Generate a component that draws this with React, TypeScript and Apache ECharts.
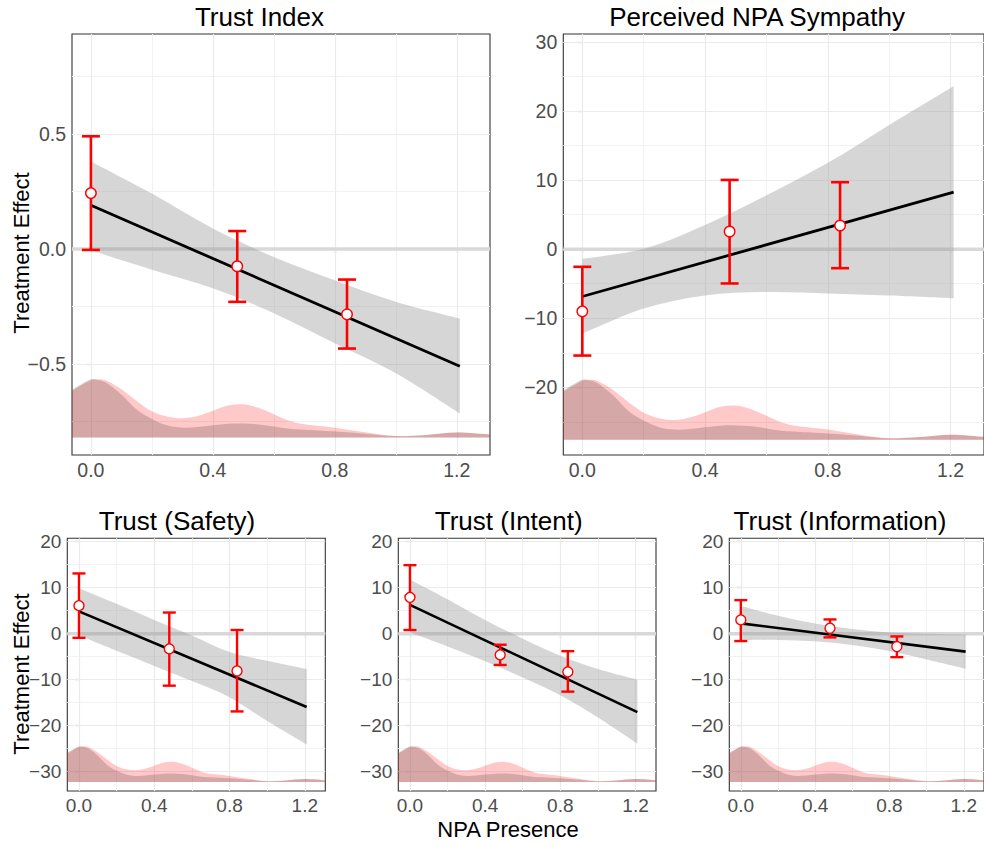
import React, { useEffect, useRef } from 'react';
import * as echarts from 'echarts';

// ---------------- Data ----------------
const panelTitles = ['Trust Index', 'Perceived NPA Sympathy', 'Trust (Safety)', 'Trust (Intent)', 'Trust (Information)'];
const yAxisTitle = 'Treatment Effect';
const xAxisTitle = 'NPA Presence';

const xTickValues = [0, 0.4, 0.8, 1.2];
const xMinorValues = [0.2, 0.6, 1.0];

// binned estimates (red points with 95% CI)
const pointX = [0, 0.48, 0.84];
const trustIndexEst = [0.243, -0.075, -0.284];
const trustIndexLow = [-0.004, -0.23, -0.433];
const trustIndexHigh = [0.49, 0.078, -0.133];
const sympathyEst = [-9.0, 2.56, 3.43];
const sympathyLow = [-15.4, -4.96, -2.75];
const sympathyHigh = [-2.55, 10.03, 9.7];
const safetyEst = [6.1, -3.3, -8.1];
const safetyLow = [-0.9, -11.3, -16.9];
const safetyHigh = [13.1, 4.6, 0.8];
const intentEst = [7.9, -4.6, -8.3];
const intentLow = [0.8, -6.8, -12.6];
const intentHigh = [14.9, -2.4, -3.8];
const infoEst = [3.0, 1.2, -2.8];
const infoLow = [-1.6, -0.8, -5.1];
const infoHigh = [7.3, 3.1, -0.6];

// linear fit (black line)
const fitX = [0, 1.21];
const trustIndexFit = [0.19, -0.51];
const sympathyFit = [-6.85, 8.25];
const safetyFit = [4.85, -15.95];
const intentFit = [6.25, -17.05];
const infoFit = [2.25, -3.9];

// confidence band (grey)
const bandX = [0, 0.2, 0.4, 0.6, 0.8, 1.0, 1.21];
const trustIndexBandHigh = [0.381, 0.241, 0.089, -0.035, -0.136, -0.23, -0.303];
const trustIndexBandLow = [-0.006, -0.09, -0.171, -0.279, -0.41, -0.54, -0.715];
const sympathyBandHigh = [-1.39, 0.05, 3.5, 7.8, 12.5, 18.0, 23.6];
const sympathyBandLow = [-12.24, -8.6, -6.7, -6.2, -6.4, -6.7, -7.1];
const safetyBandHigh = [9.9, 6.5, 3.0, -0.4, -4.0, -5.9, -7.7];
const safetyBandLow = [-0.4, -3.7, -7.0, -10.3, -13.8, -19.0, -24.1];
const intentBandHigh = [11.8, 7.5, 3.0, -1.1, -4.8, -7.7, -10.0];
const intentBandLow = [0.3, -2.8, -6.0, -9.5, -13.4, -18.2, -23.9];
const infoBandHigh = [6.0, 3.9, 2.2, 1.0, 0.25, 0.0, -0.15];
const infoBandLow = [-1.4, -1.35, -1.65, -2.45, -3.75, -5.6, -7.6];

// density of moderator (relative heights, 1 = peak)
const densityX = [-0.062, -0.03, 0, 0.02, 0.05, 0.1, 0.15, 0.2, 0.25, 0.3, 0.35, 0.4, 0.45, 0.5, 0.55, 0.6, 0.65, 0.7, 0.8, 0.9, 1.0, 1.1, 1.2, 1.309];
const densityTreated = [0.8, 0.9, 0.98, 1.0, 0.98, 0.83, 0.63, 0.45, 0.36, 0.33, 0.37, 0.46, 0.55, 0.57, 0.51, 0.4, 0.29, 0.23, 0.17, 0.09, 0.025, 0.045, 0.085, 0.05];
const densityControl = [0.82, 0.92, 1.0, 0.99, 0.94, 0.74, 0.48, 0.32, 0.21, 0.17, 0.18, 0.21, 0.235, 0.24, 0.225, 0.19, 0.15, 0.135, 0.105, 0.067, 0.025, 0.045, 0.085, 0.05];
const densityBase = [-0.82, -27.6, -32.25, -32.25, -32.25];
const densityPeak = [-0.567, -18.9, -24.5, -24.5, -24.5];

const yMajorTicks = [[-0.5, 0, 0.5], [-20, -10, 0, 10, 20, 30], [-30, -20, -10, 0, 10, 20], [-30, -20, -10, 0, 10, 20], [-30, -20, -10, 0, 10, 20]];
const yMinorTicks = [[-0.75, -0.25, 0.25, 0.75], [-25, -15, -5, 5, 15, 25], [-25, -15, -5, 5, 15], [-25, -15, -5, 5, 15], [-25, -15, -5, 5, 15]];

// ---------------- Layout ----------------
const FONT = "'Liberation Sans', Arial, Helvetica, sans-serif";
const X_MIN = -0.062;
const X_MAX = 1.309;

const layouts = [
  { left: 72, top: 34, width: 418, height: 421, ymin: -0.896, ymax: 0.935, fs: 19.5, dec: true, big: true },
  { left: 563.3, top: 34, width: 422, height: 421, ymin: -29.8, ymax: 31.16, fs: 19.5, dec: false, big: true },
  { left: 67.3, top: 538.3, width: 258, height: 252.7, ymin: -34.2, ymax: 20.74, fs: 19, dec: false, big: false },
  { left: 398.3, top: 538.3, width: 257.7, height: 252.7, ymin: -34.2, ymax: 20.74, fs: 19, dec: false, big: false },
  { left: 729.3, top: 538.3, width: 258, height: 252.7, ymin: -34.2, ymax: 20.74, fs: 19, dec: false, big: false },
];
const titlePos = [[259.5, 17], [757, 17], [177, 521], [508.7, 521], [840, 521]];

const panels = [
  { est: trustIndexEst, low: trustIndexLow, high: trustIndexHigh, fit: trustIndexFit, bandHigh: trustIndexBandHigh, bandLow: trustIndexBandLow },
  { est: sympathyEst, low: sympathyLow, high: sympathyHigh, fit: sympathyFit, bandHigh: sympathyBandHigh, bandLow: sympathyBandLow },
  { est: safetyEst, low: safetyLow, high: safetyHigh, fit: safetyFit, bandHigh: safetyBandHigh, bandLow: safetyBandLow },
  { est: intentEst, low: intentLow, high: intentHigh, fit: intentFit, bandHigh: intentBandHigh, bandLow: intentBandLow },
  { est: infoEst, low: infoLow, high: infoHigh, fit: infoFit, bandHigh: infoBandHigh, bandLow: infoBandLow },
];

function fmt(v: number, dec: boolean) {
  const s = dec ? v.toFixed(1) : String(Math.round(v));
  return s.replace('-', '\u2212');
}

// smooth curve (Catmull-Rom -> cubic bezier) through pixel points, continuing an existing path
function curveThrough(pts: number[][], tension = 1): string {
  let d = '';
  for (let k = 0; k < pts.length - 1; k++) {
    const p0 = pts[Math.max(0, k - 1)];
    const p1 = pts[k];
    const p2 = pts[k + 1];
    const p3 = pts[Math.min(pts.length - 1, k + 2)];
    const c1x = p1[0] + ((p2[0] - p0[0]) / 6) * tension;
    const c1y = p1[1] + ((p2[1] - p0[1]) / 6) * tension;
    const c2x = p2[0] - ((p3[0] - p1[0]) / 6) * tension;
    const c2y = p2[1] - ((p3[1] - p1[1]) / 6) * tension;
    d += ` C ${c1x} ${c1y} ${c2x} ${c2y} ${p2[0]} ${p2[1]}`;
  }
  return d;
}

function bandPath(api: any, xs: number[], lo: number[], hi: number[]): string {
  const up = xs.map((x, j) => api.coord([x, hi[j]]));
  const dn = xs.map((x, j) => api.coord([x, lo[j]])).reverse();
  let d = `M ${up[0][0]} ${up[0][1]}`;
  d += curveThrough(up);
  d += ` L ${dn[0][0]} ${dn[0][1]}`;
  d += curveThrough(dn);
  d += ' Z';
  return d;
}

function densityPath(api: any, xs: number[], top: number[], base: number): string {
  const pts = xs.map((x, j) => api.coord([x, top[j]]));
  const b0 = api.coord([xs[0], base]);
  const b1 = api.coord([xs[xs.length - 1], base]);
  let d = `M ${b0[0]} ${b0[1]} L ${pts[0][0]} ${pts[0][1]}`;
  d += curveThrough(pts);
  d += ` L ${b1[0]} ${b1[1]} Z`;
  return d;
}

function buildOption() {
  const grid: any[] = [];
  const xAxis: any[] = [];
  const yAxis: any[] = [];
  const series: any[] = [];

  panels.forEach((p, i) => {
    const L = layouts[i];
    grid.push({
      left: L.left, top: L.top, width: L.width, height: L.height,
      show: true, borderColor: '#333333', borderWidth: 1.1, backgroundColor: 'transparent',
    });
    xAxis.push({
      gridIndex: i, type: 'value', min: X_MIN, max: X_MAX,
      splitLine: { show: false }, axisLine: { show: false },
      axisTick: { show: true, length: 4, lineStyle: { color: '#333333', width: 1.1 }, customValues: xTickValues },
      axisLabel: {
        customValues: xTickValues, formatter: (v: number) => fmt(v, true),
        color: '#4D4D4D', fontSize: L.fs, fontFamily: FONT, margin: 5,
      },
    });
    const yTicks = yMajorTicks[i];
    yAxis.push({
      gridIndex: i, type: 'value', min: L.ymin, max: L.ymax,
      splitLine: { show: false }, axisLine: { show: false },
      axisTick: { show: true, length: 4, lineStyle: { color: '#333333', width: 1.1 }, customValues: yTicks },
      axisLabel: {
        customValues: yTicks, formatter: (v: number) => fmt(v, L.dec),
        color: '#4D4D4D', fontSize: L.fs, fontFamily: FONT, margin: 6,
      },
    });

    // grid lines
    series.push({
      type: 'line', xAxisIndex: i, yAxisIndex: i, data: [[0, 0]], symbol: 'none', silent: true,
      lineStyle: { opacity: 0 }, z: 1,
      markLine: {
        silent: true, symbol: ['none', 'none'], label: { show: false }, z: 1, animation: false,
        emphasis: { disabled: true },
        data: [
          ...xMinorValues.map((v) => ({ xAxis: v, lineStyle: { color: '#F2F2F2', width: 1, type: 'solid' } })),
          ...yMinorTicks[i].map((v) => ({ yAxis: v, lineStyle: { color: '#F2F2F2', width: 1, type: 'solid' } })),
          ...xTickValues.map((v) => ({ xAxis: v, lineStyle: { color: '#EBEBEB', width: 1.2, type: 'solid' } })),
          ...yTicks.map((v) => ({ yAxis: v, lineStyle: { color: '#EBEBEB', width: 1.2, type: 'solid' } })),
        ],
      },
    });

    // densities (treated pink, control darker overlay)
    const base = densityBase[i];
    const h = densityPeak[i] - base;
    const densSets = [
      { vals: densityTreated, color: 'rgba(255,0,0,0.21)' },
      { vals: densityControl, color: 'rgba(118,91,91,0.3)' },
    ];
    densSets.forEach((d) => {
      const tops = d.vals.map((v) => base + v * h);
      series.push({
        type: 'custom', xAxisIndex: i, yAxisIndex: i, silent: true, z: 2,
        data: [[X_MIN, base]], encode: { x: 0, y: 1 },
        renderItem: (params: any, api: any) => ({
          type: 'path',
          shape: { pathData: densityPath(api, densityX, tops, base) },
          style: { fill: d.color, stroke: 'none' },
        }),
      });
    });

    // zero line
    series.push({
      type: 'line', xAxisIndex: i, yAxisIndex: i, data: [[X_MIN, 0], [X_MAX, 0]], symbol: 'none', silent: true,
      lineStyle: { color: '#D8D8D8', width: 3.5 }, z: 2.5,
    });

    // confidence band
    series.push({
      type: 'custom', xAxisIndex: i, yAxisIndex: i, silent: true, z: 3,
      data: [[bandX[0], p.bandLow[0]]], encode: { x: 0, y: 1 },
      renderItem: (params: any, api: any) => ({
        type: 'path',
        shape: { pathData: bandPath(api, bandX, p.bandLow, p.bandHigh) },
        style: { fill: 'rgba(153,153,153,0.4)', stroke: 'none' },
      }),
    });

    // fitted line
    series.push({
      type: 'line', xAxisIndex: i, yAxisIndex: i, data: fitX.map((x, j) => [x, p.fit[j]]), symbol: 'none', silent: true,
      lineStyle: { color: '#000000', width: L.big ? 2.8 : 2.6 }, z: 4,
    });

    // error bars
    const capHalf = L.big ? 9 : 6.5;
    const barW = L.big ? 2.6 : 2.4;
    series.push({
      type: 'custom', xAxisIndex: i, yAxisIndex: i, silent: true, z: 5,
      data: pointX.map((x, j) => [x, p.low[j], p.high[j]]),
      encode: { x: 0, y: [1, 2] },
      renderItem: (params: any, api: any) => {
        const x = api.value(0);
        const lo = api.coord([x, api.value(1)]);
        const hi = api.coord([x, api.value(2)]);
        const style = { stroke: '#FF0000', lineWidth: barW, fill: 'none' };
        return {
          type: 'group',
          children: [
            { type: 'line', shape: { x1: lo[0], y1: lo[1], x2: hi[0], y2: hi[1] }, style },
            { type: 'line', shape: { x1: lo[0] - capHalf, y1: lo[1], x2: lo[0] + capHalf, y2: lo[1] }, style },
            { type: 'line', shape: { x1: hi[0] - capHalf, y1: hi[1], x2: hi[0] + capHalf, y2: hi[1] }, style },
          ],
        };
      },
    });

    // points
    series.push({
      type: 'scatter', xAxisIndex: i, yAxisIndex: i, silent: true, z: 6,
      data: pointX.map((x, j) => [x, p.est[j]]),
      symbol: 'circle', symbolSize: L.big ? 10.5 : 10,
      itemStyle: { color: '#FFFFFF', borderColor: '#FF0000', borderWidth: 1.4, opacity: 1 },
    });
  });

  const graphic: any[] = [
    ...panelTitles.map((t, i) => ({
      type: 'text', x: titlePos[i][0], y: titlePos[i][1], silent: true,
      style: { text: t, fontSize: 26, fontFamily: FONT, fill: '#000000', textAlign: 'center', textVerticalAlign: 'middle' },
    })),
    {
      type: 'text', x: 21, y: 253, rotation: Math.PI / 2, silent: true,
      style: { text: yAxisTitle, fontSize: 22, fontFamily: FONT, fill: '#000000', textAlign: 'center', textVerticalAlign: 'middle' },
    },
    {
      type: 'text', x: 21, y: 674, rotation: Math.PI / 2, silent: true,
      style: { text: yAxisTitle, fontSize: 22, fontFamily: FONT, fill: '#000000', textAlign: 'center', textVerticalAlign: 'middle' },
    },
    {
      type: 'text', x: 508, y: 829.5, silent: true,
      style: { text: xAxisTitle, fontSize: 22, fontFamily: FONT, fill: '#000000', textAlign: 'center', textVerticalAlign: 'middle' },
    },
  ];

  return {
    animation: false,
    backgroundColor: '#FFFFFF',
    grid, xAxis, yAxis, series, graphic,
  };
}

export default function App() {
  const ref = useRef<HTMLDivElement>(null);
  useEffect(() => {
    if (!ref.current) return;
    const chart = echarts.init(ref.current, undefined, { renderer: 'svg' });
    chart.setOption(buildOption() as any);
    return () => chart.dispose();
  }, []);
  return (
    <div
      ref={ref}
      style={{ position: 'fixed', left: 0, top: 0, width: 984, height: 846, background: '#FFFFFF' }}
    />
  );
}
